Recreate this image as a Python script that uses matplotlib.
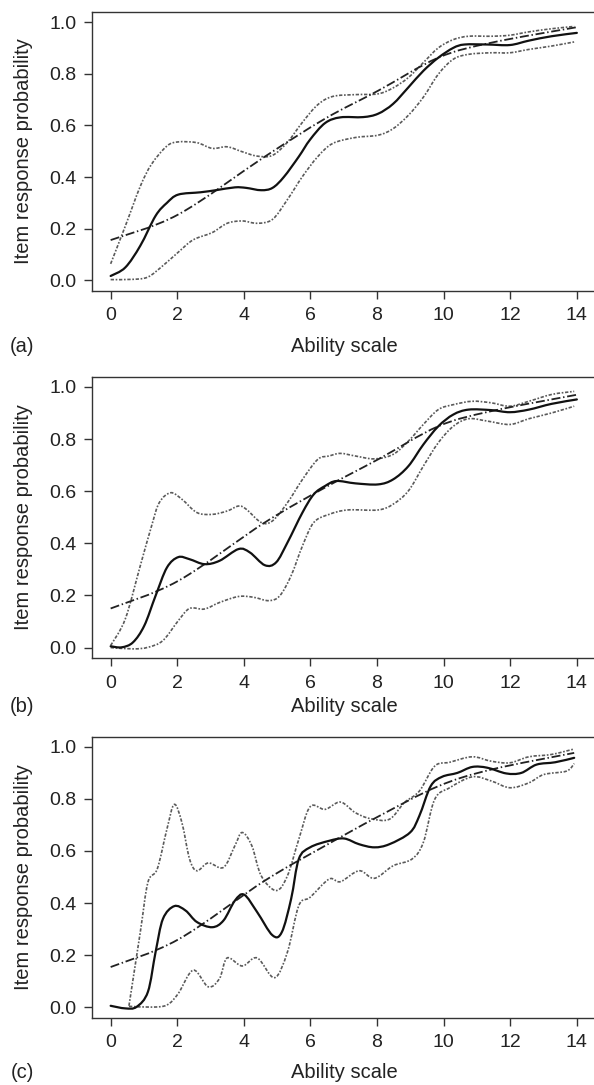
import matplotlib
matplotlib.use("Agg")
import matplotlib.pyplot as plt
from matplotlib.path import Path
from matplotlib.patches import PathPatch

plt.rcParams['font.family'] = ['Liberation Sans', 'DejaVu Sans']

# ---------------- data ----------------
# Panel (a)
a_fit_x = [0, 0.44, 0.89, 1.35, 1.69, 2.03, 2.7, 3.16, 3.73, 4.07, 4.52, 4.86, 5.2, 5.65, 5.99,
           6.44, 6.9, 7.58, 8.03, 8.48, 8.94, 9.39, 9.84, 10.29, 10.63, 11.31, 11.99, 12.56, 13.24, 14]
a_fit_y = [0.017, 0.05, 0.134, 0.25, 0.30, 0.332, 0.341, 0.349, 0.36, 0.358, 0.349, 0.358, 0.40, 0.479, 0.545,
           0.609, 0.631, 0.632, 0.645, 0.683, 0.747, 0.811, 0.862, 0.90, 0.913, 0.913, 0.911, 0.928, 0.945, 0.958]
a_up_x = [0, 0.44, 0.89, 1.23, 1.69, 2.03, 2.59, 3.05, 3.5, 3.95, 4.4, 4.86, 5.31, 5.76, 6.22, 6.67,
          7.35, 8.03, 8.48, 8.94, 9.39, 9.84, 10.29, 10.75, 11.43, 11.99, 12.56, 13.24, 13.92]
a_up_y = [0.064, 0.21, 0.364, 0.45, 0.52, 0.536, 0.533, 0.511, 0.517, 0.498, 0.481, 0.484, 0.535, 0.612, 0.68, 0.712,
          0.719, 0.722, 0.745, 0.785, 0.843, 0.90, 0.932, 0.945, 0.945, 0.949, 0.962, 0.974, 0.983]
a_lo_x = [0, 0.67, 1.12, 1.57, 2.03, 2.48, 3.05, 3.5, 3.95, 4.4, 4.86, 5.31, 5.76, 6.22, 6.67,
          7.35, 8.03, 8.48, 8.94, 9.39, 9.84, 10.29, 10.75, 11.43, 11.99, 12.56, 13.24, 13.92]
a_lo_y = [0.003, 0.004, 0.013, 0.057, 0.109, 0.157, 0.185, 0.221, 0.23, 0.221, 0.236, 0.313, 0.402, 0.479, 0.53,
          0.553, 0.562, 0.587, 0.639, 0.709, 0.798, 0.856, 0.875, 0.881, 0.881, 0.894, 0.907, 0.923]
a_par_x = [0, 2.03, 4.63, 6.44, 8.03, 9.84, 11.43, 14]
a_par_y = [0.156, 0.255, 0.479, 0.626, 0.734, 0.862, 0.92, 0.98]

# Panel (b)
b_fit_x = [0, 0.33, 0.67, 1.01, 1.35, 1.69, 2.03, 2.37, 2.82, 3.27, 3.84, 4.18, 4.63, 4.97, 5.31, 5.76,
           6.1, 6.44, 6.78, 7.35, 8.03, 8.48, 8.94, 9.39, 9.84, 10.29, 10.75, 11.43, 11.99, 12.56, 13.24, 14]
b_fit_y = [0.005, 0.001, 0.02, 0.084, 0.199, 0.307, 0.347, 0.339, 0.32, 0.333, 0.378, 0.365, 0.316, 0.327, 0.403, 0.518,
           0.588, 0.62, 0.639, 0.63, 0.626, 0.645, 0.696, 0.779, 0.849, 0.894, 0.913, 0.911, 0.903, 0.913, 0.935, 0.952]
b_up_x = [0, 0.44, 0.89, 1.23, 1.46, 1.8, 2.14, 2.59, 3.05, 3.5, 3.84, 4.07, 4.52, 4.86, 5.31, 5.76, 6.22,
          6.56, 6.9, 7.35, 7.92, 8.48, 8.94, 9.39, 9.84, 10.29, 10.86, 11.43, 11.99, 12.56, 13.24, 13.92]
b_up_y = [0.008, 0.11, 0.314, 0.467, 0.556, 0.594, 0.569, 0.518, 0.511, 0.524, 0.543, 0.531, 0.48, 0.486, 0.556, 0.645, 0.722,
          0.735, 0.745, 0.735, 0.724, 0.741, 0.792, 0.856, 0.913, 0.932, 0.945, 0.939, 0.926, 0.945, 0.971, 0.983]
b_lo_x = [0, 0.67, 1.12, 1.57, 2.03, 2.37, 2.82, 3.27, 3.84, 4.29, 4.75, 5.08, 5.42, 5.76, 6.1, 6.56,
          7.12, 8.03, 8.48, 8.94, 9.39, 9.84, 10.29, 10.75, 11.31, 11.99, 12.56, 13.24, 13.92]
b_lo_y = [0.0, -0.005, 0.001, 0.027, 0.103, 0.15, 0.148, 0.173, 0.196, 0.193, 0.18, 0.199, 0.276, 0.39, 0.48, 0.511,
          0.528, 0.528, 0.55, 0.601, 0.696, 0.786, 0.849, 0.878, 0.869, 0.856, 0.878, 0.90, 0.926]
b_par_x = [0, 2.03, 4.63, 6.44, 8.03, 9.84, 11.43, 14]
b_par_y = [0.15, 0.256, 0.48, 0.614, 0.722, 0.849, 0.907, 0.97]

# Panel (c)
c_fit_x = [0, 0.44, 0.78, 1.12, 1.35, 1.57, 1.91, 2.25, 2.59, 3.05, 3.39, 3.73, 4.01, 4.4, 4.86, 5.14,
           5.42, 5.65, 5.99, 6.56, 7.01, 7.46, 7.92, 8.37, 8.99, 9.27, 9.61, 9.95, 10.41, 10.86, 11.31,
           11.88, 12.33, 12.79, 13.35, 13.92]
c_fit_y = [0.005, -0.005, 0.001, 0.059, 0.212, 0.339, 0.388, 0.371, 0.327, 0.307, 0.333, 0.409, 0.432, 0.365, 0.276, 0.288,
           0.416, 0.569, 0.614, 0.639, 0.648, 0.626, 0.614, 0.626, 0.671, 0.735, 0.849, 0.885, 0.90, 0.923, 0.92,
           0.898, 0.90, 0.932, 0.941, 0.958]
c_up_x = [0.55, 0.89, 1.12, 1.4, 1.69, 1.91, 2.14, 2.37, 2.59, 2.93, 3.39, 3.73, 3.95, 4.24, 4.52, 4.97,
          5.31, 5.65, 5.99, 6.44, 6.9, 7.35, 7.81, 8.37, 8.82, 9.27, 9.73, 10.18, 10.86, 11.43, 11.99,
          12.56, 13.24, 13.92]
c_up_y = [0.005, 0.288, 0.48, 0.531, 0.684, 0.779, 0.709, 0.569, 0.524, 0.554, 0.537, 0.62, 0.671, 0.62, 0.505, 0.448,
          0.505, 0.645, 0.77, 0.76, 0.788, 0.747, 0.724, 0.722, 0.786, 0.83, 0.926, 0.941, 0.962, 0.945, 0.939,
          0.962, 0.971, 0.992]
c_lo_x = [0.55, 1.23, 1.69, 2.03, 2.48, 2.93, 3.27, 3.5, 3.95, 4.4, 4.92, 5.31, 5.65, 5.99, 6.56, 6.9,
          7.46, 7.92, 8.48, 9.05, 9.39, 9.73, 10.18, 10.86, 11.43, 11.99, 12.56, 13.01, 13.69, 13.92]
c_lo_y = [0.003, 0.0, 0.008, 0.052, 0.142, 0.078, 0.11, 0.189, 0.158, 0.189, 0.113, 0.212, 0.39, 0.422, 0.492, 0.482,
          0.524, 0.495, 0.543, 0.569, 0.633, 0.798, 0.843, 0.885, 0.869, 0.843, 0.862, 0.894, 0.907, 0.936]
c_par_x = [0, 2.03, 4.63, 6.44, 8.03, 9.84, 11.43, 13.92]
c_par_y = [0.154, 0.26, 0.486, 0.62, 0.732, 0.849, 0.913, 0.977]

panel_labels = ['(a)', '(b)', '(c)']
x_ticks = [0, 2, 4, 6, 8, 10, 12, 14]
y_ticks = [0.0, 0.2, 0.4, 0.6, 0.8, 1.0]
y_ticklabels = ['0.0', '0.2', '0.4', '0.6', '0.8', '1.0']
x_label = 'Ability scale'
y_label = 'Item response probability'

panels = [
    (a_fit_x, a_fit_y, a_up_x, a_up_y, a_lo_x, a_lo_y, a_par_x, a_par_y),
    (b_fit_x, b_fit_y, b_up_x, b_up_y, b_lo_x, b_lo_y, b_par_x, b_par_y),
    (c_fit_x, c_fit_y, c_up_x, c_up_y, c_lo_x, c_lo_y, c_par_x, c_par_y),
]


def smooth_curve(ax, xs, ys, **kw):
    """Draw a smooth (Catmull-Rom as cubic Bezier) curve through the data points."""
    pts = list(zip(xs, ys))
    n = len(pts)
    verts = [pts[0]]
    codes = [Path.MOVETO]
    for i in range(n - 1):
        p0 = pts[i - 1] if i > 0 else pts[i]
        p1 = pts[i]
        p2 = pts[i + 1]
        p3 = pts[i + 2] if i + 2 < n else pts[i + 1]
        c1 = (p1[0] + (p2[0] - p0[0]) / 6.0, p1[1] + (p2[1] - p0[1]) / 6.0)
        c2 = (p2[0] - (p3[0] - p1[0]) / 6.0, p2[1] - (p3[1] - p1[1]) / 6.0)
        verts += [c1, c2, p2]
        codes += [Path.CURVE4, Path.CURVE4, Path.CURVE4]
    patch = PathPatch(Path(verts, codes), fill=False, transform=ax.transData, **kw)
    ax.add_patch(patch)
    return patch


# ---------------- layout ----------------
W, H = 594, 1085
fig = plt.figure(figsize=(W / 100, H / 100), dpi=100)

# (top px, bottom px, xlabel y px, panel-label y px)
boxes = [(11.7, 290.7, 346, 346), (376.5, 658.0, 707, 707), (736.5, 1017.5, 1073, 1073)]
left_px, right_px = 92.0, 595.5
axis_col = '#333333'
text_col = '#222222'

for (fx, fy, ux, uy, lx, ly, px, py), (top, bot, xly, ply), lab in zip(panels, boxes, panel_labels):
    ax = fig.add_axes([left_px / W, 1 - bot / H, (right_px - left_px) / W, (bot - top) / H])
    smooth_curve(ax, ux, uy, edgecolor='#5a5a5a', lw=1.2, ls=(0, (2, 1, 1, 1)))
    smooth_curve(ax, lx, ly, edgecolor='#5a5a5a', lw=1.2, ls=(0, (2, 1, 1, 1)))
    smooth_curve(ax, px, py, edgecolor='#222222', lw=1.3, ls=(0, (5, 1.5, 0.8, 1.5)))
    smooth_curve(ax, fx, fy, edgecolor='#111111', lw=1.6, capstyle='round')
    ax.set_xlim(-0.56, 14.56)
    ax.set_ylim(-0.04, 1.04)
    ax.set_xticks(x_ticks)
    ax.set_yticks(y_ticks)
    ax.set_yticklabels(y_ticklabels)
    ax.tick_params(direction='out', length=6, width=1.0, color=axis_col,
                   labelsize=14, labelcolor=text_col)
    ax.tick_params(axis='x', pad=6)
    ax.tick_params(axis='y', pad=5)
    for s in ['left', 'top', 'bottom']:
        ax.spines[s].set_color(axis_col)
        ax.spines[s].set_linewidth(1.0)
    ax.spines['right'].set_visible(False)
    # axis titles
    fig.text(344 / W, 1 - xly / H, x_label, ha='center', va='center', fontsize=14.5, color=text_col)
    fig.text(23.5 / W, 1 - (top + bot) / 2 / H, y_label, ha='center', va='center',
             rotation=90, fontsize=14.5, color=text_col)
    fig.text(22 / W, 1 - ply / H, lab, ha='center', va='center', fontsize=14.5, color=text_col)

fig.savefig('out.png', dpi=100)
